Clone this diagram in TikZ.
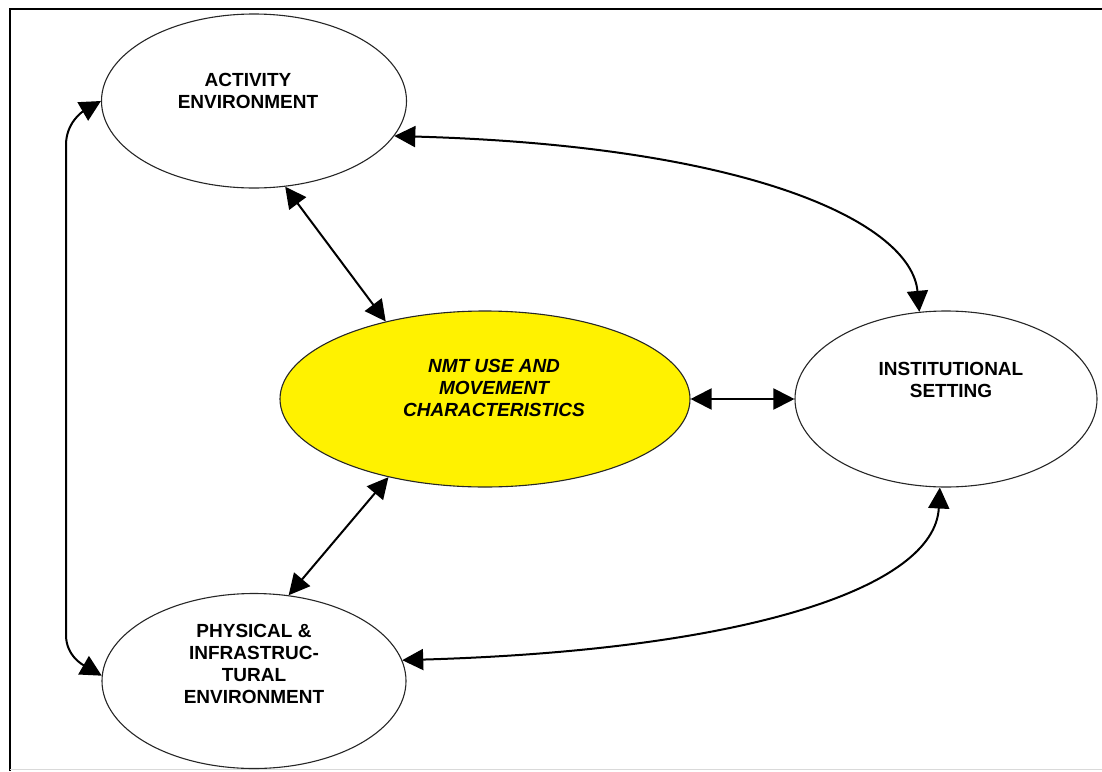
\documentclass[tikz,border=0pt]{standalone}
\usepackage{fontspec}
\setmainfont{Liberation Sans}
\usetikzlibrary{shapes.geometric,arrows.meta}
\begin{document}
\begin{tikzpicture}[x=1pt,y=-1pt,
  bubble/.style={draw=black!85,line width=1.1pt,ellipse,inner sep=0pt},
  lbl/.style={align=center,inner sep=0pt,font=\fontsize{19}{22}\selectfont\bfseries},
  dbl/.style={line width=2pt,{Triangle[length=21pt,width=21pt]}-{Triangle[length=21pt,width=21pt]}}]
\useasboundingbox (0,0) rectangle (1102,771);
% frame
\draw[line width=2pt] (10,771) -- (10,9) -- (1102,9);
\draw[black!15,line width=1pt] (10,769) -- (1102,769);
% ellipses
\node[bubble,minimum width=305pt,minimum height=174pt] (act) at (254,101) {};
\node[bubble,fill=yellow,minimum width=410pt,minimum height=176pt] (nmt) at (485,399) {};
\node[bubble,minimum width=302pt,minimum height=176pt] (inst) at (946,399) {};
\node[bubble,minimum width=304pt,minimum height=175pt] (phys) at (254,681) {};
% texts
\node[lbl] (actT) at (248,91) {ACTIVITY\\ENVIRONMENT};
\node[lbl,font=\fontsize{19}{22}\selectfont\bfseries\itshape] (nmtT) at (494,388) {NMT USE AND\\MOVEMENT\\CHARACTERISTICS};
\node[lbl] (instT) at (951,380) {INSTITUTIONAL\\SETTING};
\node[lbl] (physT) at (254,664) {PHYSICAL \&\\INFRASTRUC-\\TURAL\\ENVIRONMENT};
% connectors
\draw[dbl] (act.-70) -- (nmt.142);
\draw[dbl] (nmt.219) -- (phys.68);
\draw[dbl] (nmt.east) -- (inst.west);
\draw[dbl] (act.-14) .. controls +(360,10) and +(-8,-88) .. (inst.107);
\draw[dbl] (phys.8) .. controls +(345,-10) and +(-5,100) .. (inst.-94);
\coordinate (lt) at (66,145);
\coordinate (lb) at (66,635);
\draw[dbl] (act.west) to[out=210,in=90] (lt) -- (lb) to[out=-90,in=150] (phys.178);
\end{tikzpicture}
\end{document}
